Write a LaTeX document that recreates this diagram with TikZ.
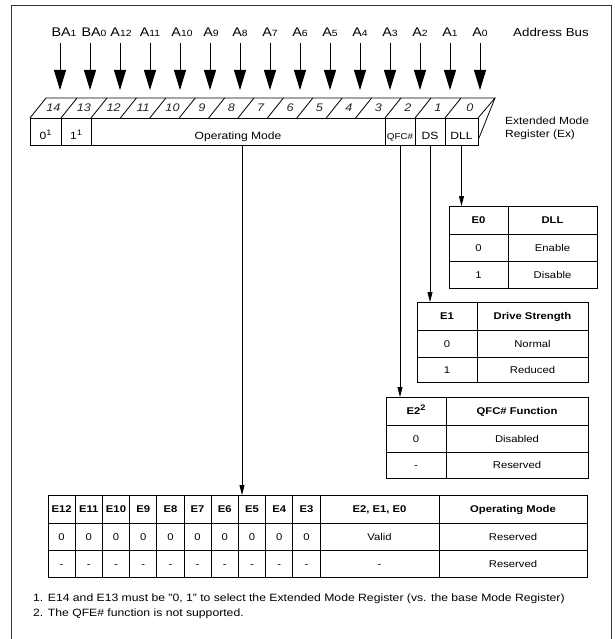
\documentclass[tikz,border=0pt]{standalone}
\usepackage{fontspec}
\setmainfont{Liberation Sans}[FakeStretch=1.15]
\usetikzlibrary{arrows.meta}
\newcommand\fsz[1]{\fontsize{#1}{#1}\selectfont}
\newcommand\addrl[2]{{\fsz{12.5}#1}{\fsz{9}#2}}
\newcommand\supr[1]{\raisebox{4pt}{\fsz{8}#1}}
\begin{document}
\begin{tikzpicture}[x=1pt,y=-1pt,
  ln/.style={draw=black, line width=0.8pt},
  bigarrow/.style={line width=0.9pt, -{Triangle[width=12pt,length=20pt]}},
  smallarrow/.style={line width=0.8pt, -{Triangle[width=5pt,length=10pt]}},
  cell/.style={inner sep=0pt, text height=7pt, text depth=0pt, font=\fsz{9.8}},
  hcell/.style={cell, font=\fsz{9.8}\bfseries},
  tab/.style={draw, line width=1pt, inner sep=0pt, outer sep=0pt, anchor=north west},
  regcell/.style={draw, line width=0.8pt, inner sep=0pt, outer sep=0pt, anchor=north west, minimum height=27pt},
  regtxt/.style={inner sep=0pt, anchor=base, font=\fsz{10.5}},
  bitlab/.style={inner sep=0pt, font=\fsz{11}\itshape, text height=7.5pt, text depth=0pt, text=black!85},
  ]
\useasboundingbox (0,0) rectangle (614,639);
% outer frame
\draw[line width=0.9pt, draw=black!80] (11,5) rectangle (611,660);

% address bus labels and arrows
\foreach \i/\lab/\sub/\dx in {14/BA/1/4, 13/BA/0/4, 12/A/12/1, 11/A/11/0, 10/A/10/2, 9/A/9/1, 8/A/8/0, 7/A/7/0, 6/A/6/0, 5/A/5/0, 4/A/4/0, 3/A/3/0, 2/A/2/0, 1/A/1/0, 0/A/0/0} {
  \pgfmathsetmacro\xx{60+30*(14-\i)}
  \node[inner sep=0pt, anchor=base] (l\i) at (\xx+\dx,37) {\addrl{\lab}{\sub}};
  \coordinate (t\i) at (\xx,90);
  \draw[bigarrow, shorten <=6pt] (l\i.south -| t\i) -- (t\i);
}
\node[inner sep=0pt, anchor=base west, font=\fsz{11.6}] (abus) at (513,37) {Address Bus};

% register: top face
\draw[ln] (30,118) -- (46,98) -- (495,98) -- (478,118);
\draw[ln] (495,98) -- (479,138);
\foreach \a/\b/\n in {30/61/14, 61/91/13, 91/120.4/12, 120.4/149.8/11, 149.8/179.2/10, 179.2/208.6/9, 208.6/238/8, 238/267.4/7, 267.4/296.8/6, 296.8/326.2/5, 326.2/355.6/4, 355.6/385/3, 385/415/2, 415/445/1} {
  \draw[ln] (\b,118) -- (\b+16,98);
  \node[bitlab] (b\n) at ({(\a+\b)/2+8},108) {\n};
}
\node[bitlab] (b0) at (470,108) {0};
% register: front face
\node[regcell, minimum width=31pt] (c14) at (30,118) {};
\node[regcell, minimum width=30pt] (c13) at (61,118) {};
\node[regcell, minimum width=294pt] (com) at (91,118) {};
\node[regcell, minimum width=30pt] (cqfc) at (385,118) {};
\node[regcell, minimum width=30pt] (cds) at (415,118) {};
\node[regcell, minimum width=33pt] (cdll) at (445,118) {};
\node[regtxt] (t14txt) at (45.5,140) {0\supr{1}};
\node[regtxt] (t13txt) at (76,140) {1\supr{1}};
\node[regtxt] (tomtxt) at (238,140) {Operating Mode};
\node[regtxt, font=\fsz{8.6}] (tqfctxt) at (400,140) {QFC\#};
\node[regtxt] (tdstxt) at (430,140) {DS};
\node[regtxt] (tdlltxt) at (461.5,140) {DLL};
\node[inner sep=0pt, anchor=west, align=left, font=\fsz{10.4}, text depth=0pt] (extl) at (505,127) {Extended Mode\\[3pt]Register (Ex)};

% tables
% E0
\node[tab, minimum width=148pt, minimum height=82pt] (e0tab) at (449,206) {};
\draw[ln] (508,206) -- (508,288) (449,234) -- (597,234) (449,261) -- (597,261);
\node[hcell] (e0a) at (478.5,220) {E0};
\node[hcell] (e0b) at (552.5,220) {DLL};
\node[cell] (e0c) at (478.5,247.5) {0};
\node[cell] (e0d) at (552.5,247.5) {Enable};
\node[cell] (e0e) at (478.5,274.5) {1};
\node[cell] (e0f) at (552.5,274.5) {Disable};
% E1
\node[tab, minimum width=171pt, minimum height=80pt] (e1tab) at (417,302) {};
\draw[ln] (477,302) -- (477,382) (417,330) -- (588,330) (417,357) -- (588,357);
\node[hcell] (e1a) at (447,316) {E1};
\node[hcell] (e1b) at (532.5,316) {Drive Strength};
\node[cell] (e1c) at (447,343.5) {0};
\node[cell] (e1d) at (532.5,343.5) {Normal};
\node[cell] (e1e) at (447,369.5) {1};
\node[cell] (e1f) at (532.5,369.5) {Reduced};
% E2
\node[tab, minimum width=202pt, minimum height=81pt] (e2tab) at (386,397) {};
\draw[ln] (446,397) -- (446,478) (386,425) -- (588,425) (386,452) -- (588,452);
\node[hcell] (e2a) at (416,411) {E2\supr{\bfseries 2}};
\node[hcell] (e2b) at (517,411) {QFC\# Function};
\node[cell] (e2c) at (416,438.5) {0};
\node[cell] (e2d) at (517,438.5) {Disabled};
\node[cell] (e2e) at (416,465) {-};
\node[cell] (e2f) at (517,465) {Reserved};
% bottom table
\node[tab, minimum width=539pt, minimum height=82pt] (btab) at (48,495) {};
\draw[ln] (48,523) -- (587,523) (48,550) -- (587,550) (439,495) -- (439,577);
\foreach \k/\nm in {0/E12, 1/E11, 2/E10, 3/E9, 4/E8, 5/E7, 6/E6, 7/E5, 8/E4, 9/E3} {
  \pgfmathsetmacro\xl{48+27.2*\k}
  \draw[ln] (\xl+27.2,495) -- (\xl+27.2,577);
  \node[hcell] (bh\k) at (\xl+13.6,509) {\nm};
  \node[cell] (bz\k) at (\xl+13.6,536.5) {0};
  \node[cell] (bd\k) at (\xl+13.6,563.5) {-};
}
\node[hcell] (bhx) at (379.5,509) {E2, E1, E0};
\node[hcell] (bhy) at (513,509) {Operating Mode};
\node[cell] (bvx) at (379.5,536.5) {Valid};
\node[cell] (bvy) at (513,536.5) {Reserved};
\node[cell] (bwx) at (379.5,563.5) {-};
\node[cell] (bwy) at (513,563.5) {Reserved};

% connectors
\draw[smallarrow] ([xshift=4pt]com.south) -- ([xshift=4pt]com.south |- btab.north);
\draw[smallarrow] (cqfc.south) -- (cqfc.south |- e2tab.north);
\draw[smallarrow] (cds.south) -- (cds.south |- e1tab.north);
\draw[smallarrow] (cdll.south) -- (cdll.south |- e0tab.north);

% footnotes
\node[inner sep=0pt, anchor=base west, font=\fsz{10.6}] (fn1) at (33,601) {1. E14 and E13 must be "0, 1" to select the Extended Mode Register (vs. the base Mode Register)};
\node[inner sep=0pt, anchor=base west, font=\fsz{10.6}] (fn2) at (33,616) {2. The QFE\# function is not supported.};
\end{tikzpicture}
\end{document}
